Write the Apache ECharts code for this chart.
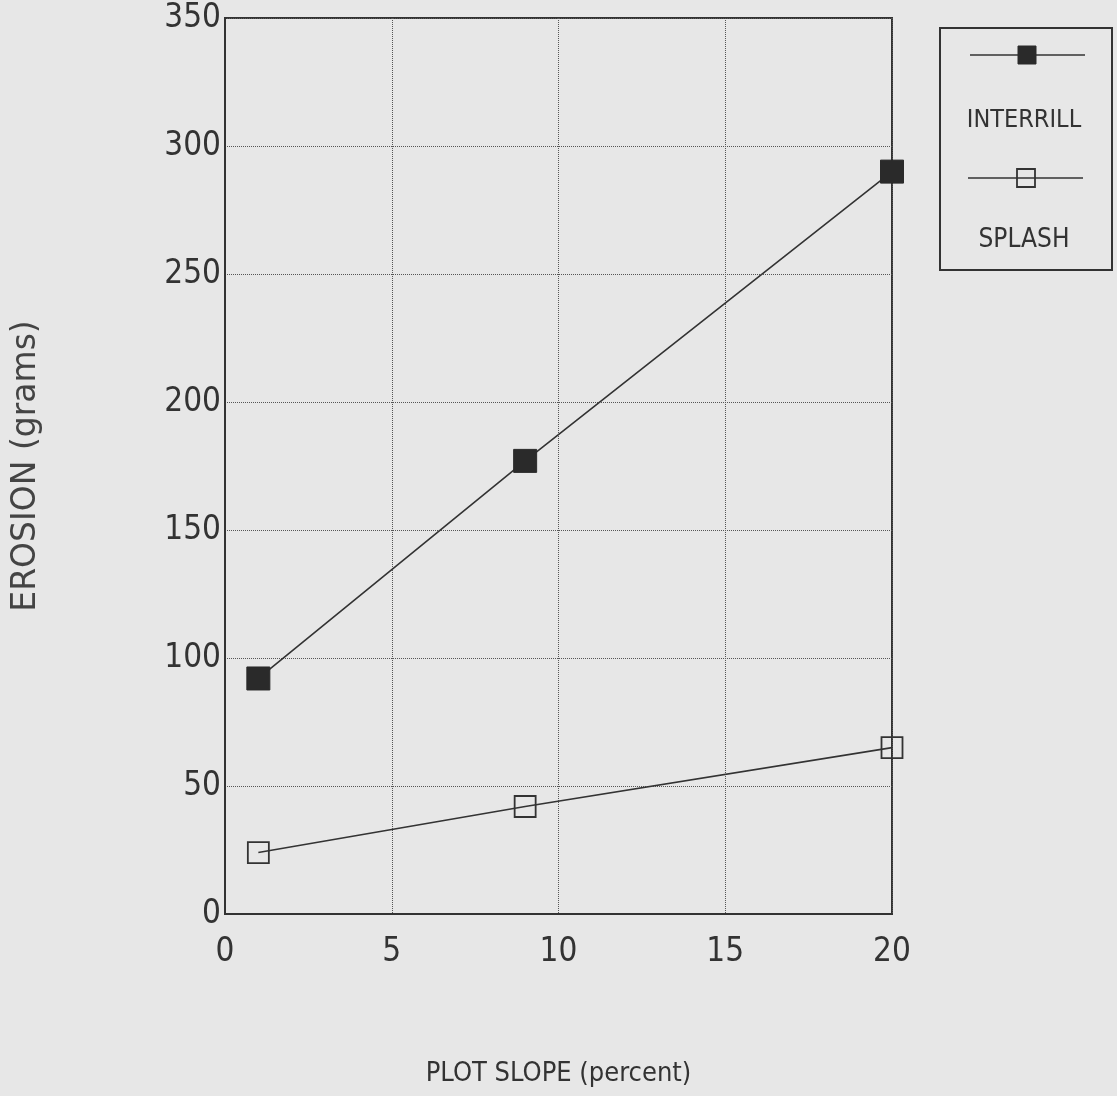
<!DOCTYPE html>
<html>
<head>
<meta charset="utf-8">
<script src="https://cdn.jsdelivr.net/npm/echarts@6/dist/echarts.min.js"></script>
<style>html,body{margin:0;padding:0;background:#e7e7e7}#c{width:1117px;height:1096px}</style>
</head>
<body>
<div id="c"></div>
<script>
const slopes = [1, 9, 20];
const interrill = [92, 177, 290];
const splash = [24, 42, 65];
const seriesNames = ['INTERRILL', 'SPLASH'];
const xTicks = [0, 5, 10, 15, 20];
const yTicks = [0, 50, 100, 150, 200, 250, 300, 350];

const ink = '#333333';
const narrow = "'Liberation Sans Narrow', 'DejaVu Sans Condensed', sans-serif";

const chart = echarts.init(document.getElementById('c'), null, {renderer: 'canvas'});
chart.setOption({
  backgroundColor: '#e7e7e7',
  animation: false,
  grid: {left: 225, right: 225, top: 18, bottom: 182, show: true, borderColor: ink, borderWidth: 2, backgroundColor: 'transparent'},
  xAxis: {
    type: 'value', min: xTicks[0], max: xTicks[xTicks.length - 1], interval: 5,
    name: 'PLOT SLOPE (percent)', nameLocation: 'middle', nameGap: 146,
    nameTextStyle: {fontFamily: narrow, fontSize: 27, color: ink},
    axisLine: {lineStyle: {color: ink, width: 2}},
    axisTick: {show: false},
    axisLabel: {fontFamily: narrow, fontSize: 33, color: ink, margin: 22},
    splitLine: {show: true, lineStyle: {type: 'dotted', color: '#555', width: 1}}
  },
  yAxis: {
    type: 'value', min: yTicks[0], max: yTicks[yTicks.length - 1], interval: 50,
    name: 'EROSION (grams)', nameLocation: 'middle', nameGap: 182, nameRotate: 90,
    nameTextStyle: {fontFamily: "'DejaVu Sans', sans-serif", fontSize: 33, color: '#444'},
    axisLine: {lineStyle: {color: ink, width: 2}},
    axisTick: {show: false},
    axisLabel: {fontFamily: narrow, fontSize: 33, color: ink, margin: 4},
    splitLine: {show: true, lineStyle: {type: 'dotted', color: '#555', width: 1}}
  },
  series: [
    {
      name: seriesNames[0], type: 'line',
      data: slopes.map((s, i) => [s, interrill[i]]),
      symbol: 'rect', symbolSize: 23,
      lineStyle: {color: ink, width: 1.6},
      itemStyle: {color: '#2a2a2a', borderColor: '#2a2a2a', borderWidth: 1}
    },
    {
      name: seriesNames[1], type: 'line',
      data: slopes.map((s, i) => [s, splash[i]]),
      symbol: 'rect', symbolSize: 21,
      lineStyle: {color: ink, width: 1.6},
      itemStyle: {color: 'rgba(0,0,0,0)', borderColor: ink, borderWidth: 1.8}
    }
  ],
  graphic: [
    {type: 'rect', shape: {x: 940, y: 28, width: 172, height: 242}, style: {fill: 'none', stroke: ink, lineWidth: 2}},
    {type: 'line', shape: {x1: 970, y1: 55, x2: 1085, y2: 55}, style: {stroke: ink, lineWidth: 1.6}},
    {type: 'rect', shape: {x: 1018, y: 46, width: 18, height: 18}, style: {fill: '#2a2a2a', stroke: '#2a2a2a'}},
    {type: 'text', style: {text: seriesNames[0], x: 1024, y: 120, align: 'center', verticalAlign: 'middle', font: "25px " + narrow, fill: ink}},
    {type: 'line', shape: {x1: 968, y1: 178, x2: 1083, y2: 178}, style: {stroke: ink, lineWidth: 1.6}},
    {type: 'rect', shape: {x: 1017, y: 169, width: 18, height: 18}, style: {fill: 'none', stroke: ink, lineWidth: 1.8}},
    {type: 'text', style: {text: seriesNames[1], x: 1024, y: 240, align: 'center', verticalAlign: 'middle', font: "26px " + narrow, fill: ink}}
  ]
});
</script>
</body>
</html>
